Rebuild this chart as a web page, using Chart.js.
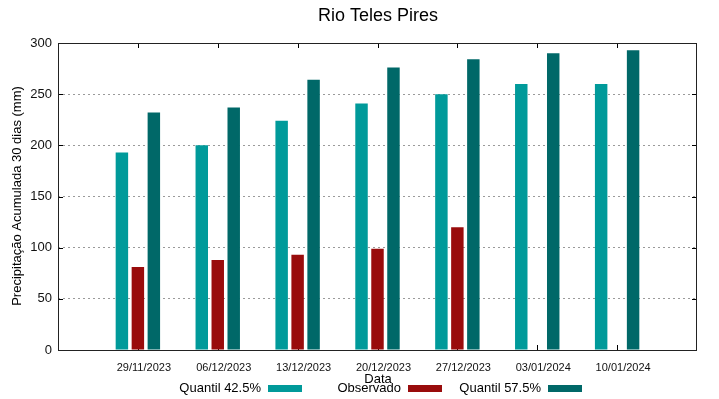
<!DOCTYPE html>
<html>
<head>
<meta charset="utf-8">
<script src="https://cdn.jsdelivr.net/npm/chart.js@4.4.1/dist/chart.umd.min.js"></script>
<style>
  html, body { margin: 0; padding: 0; background: #fff; }
  #wrap { width: 719px; height: 399px; position: relative; }
</style>
</head>
<body>
<div id="wrap"><canvas id="c" width="719" height="399"></canvas></div>
<script>
const chartTitle = 'Rio Teles Pires';
const xTitle = 'Data';
const yTitle = 'Precipitação Acumulada 30 dias (mm)';
const categories = ['29/11/2023', '06/12/2023', '13/12/2023', '20/12/2023', '27/12/2023', '03/01/2024', '10/01/2024'];
const seriesNames = ['Quantil 42.5%', 'Observado', 'Quantil 57.5%'];
const quantil425 = [193, 200, 224, 241, 250, 260, 260];
const observado = [81, 88, 93, 99, 120, null, null];
const quantil575 = [232, 237, 264, 276, 284, 290, 293];
const yTicks = [0, 50, 100, 150, 200, 250, 300];

const colors = ['#009a9a', '#990c0c', '#006868'];
const FONT = "'Liberation Sans', Arial, sans-serif";

// pad one empty category on each side (gnuplot-like x range)
const labels = [''].concat(categories, ['']);
const pad = arr => [null].concat(arr, [null]);

const decor = {
  id: 'decor',
  beforeDatasetsDraw(chart) {
    const { ctx, chartArea: a, scales } = chart;
    ctx.save();
    ctx.strokeStyle = '#000';
    ctx.lineWidth = 1;
    const tl = 5;
    ctx.beginPath();
    yTicks.forEach(v => {
      const y = Math.round(scales.y.getPixelForValue(v)) + 0.5;
      ctx.moveTo(a.left, y); ctx.lineTo(a.left + tl, y);
      ctx.moveTo(a.right, y); ctx.lineTo(a.right - tl, y);
    });
    categories.forEach((c, i) => {
      const x = Math.round(scales.x.getPixelForValue(i + 1)) + 0.5;
      ctx.moveTo(x, a.bottom); ctx.lineTo(x, a.bottom - tl);
      ctx.moveTo(x, a.top); ctx.lineTo(x, a.top + tl);
    });
    ctx.stroke();
    ctx.restore();
  },
  afterDraw(chart) {
    const { ctx, chartArea: a } = chart;
    ctx.save();
    ctx.strokeStyle = '#222';
    ctx.lineWidth = 1;
    ctx.strokeRect(Math.round(a.left) + 0.5, Math.round(a.top) + 0.5,
                   Math.round(a.right - a.left) - 1, Math.round(a.bottom - a.top));
    // title
    ctx.fillStyle = '#000';
    ctx.font = '18px ' + FONT;
    ctx.textAlign = 'center';
    ctx.textBaseline = 'middle';
    ctx.fillText(chartTitle, 378, 16);
    // x title
    ctx.font = '13px ' + FONT;
    ctx.fillText(xTitle, 378, 379);
    // y title
    ctx.save();
    ctx.translate(17, 196);
    ctx.rotate(-Math.PI / 2);
    ctx.fillText(yTitle, 0, 0);
    ctx.restore();
    // legend
    const ends = [261, 401, 541];
    chart.data.datasets.forEach((ds, i) => {
      ctx.textAlign = 'right';
      ctx.fillStyle = '#000';
      ctx.font = '13px ' + FONT;
      ctx.fillText(ds.label, ends[i], 388);
      ctx.fillStyle = ds.backgroundColor;
      ctx.fillRect(ends[i] + 7, 385, 34, 7);
    });
    ctx.restore();
  }
};

new Chart(document.getElementById('c'), {
  type: 'bar',
  data: {
    labels: labels,
    datasets: [
      { label: seriesNames[0], data: pad(quantil425), backgroundColor: colors[0] },
      { label: seriesNames[1], data: pad(observado), backgroundColor: colors[1] },
      { label: seriesNames[2], data: pad(quantil575), backgroundColor: colors[2] }
    ]
  },
  options: {
    responsive: false,
    animation: false,
    devicePixelRatio: 1,
    categoryPercentage: 0.6,
    barPercentage: 0.78,
    layout: { padding: { top: 43, right: 22, left: 0, bottom: 0 } },
    plugins: { legend: { display: false }, title: { display: false }, tooltip: { enabled: false } },
    scales: {
      x: {
        offset: false,
        grid: { display: false, drawTicks: false },
        border: { display: false },
        ticks: { color: '#111', font: { family: FONT, size: 11 }, padding: 11, labelOffset: 6, maxRotation: 0, autoSkip: false },
        afterFit(s) { s.height = 49; }
      },
      y: {
        min: 0, max: 300,
        afterBuildTicks(s) { s.ticks = yTicks.map(v => ({ value: v })); },
        grid: {
          drawTicks: false,
          color: c => (c.tick && (c.tick.value === 0 || c.tick.value === 300)) ? 'rgba(0,0,0,0)' : '#9a9a9a',
          lineWidth: 1
        },
        border: { display: false, dash: [2, 3] },
        ticks: { color: '#111', font: { family: FONT, size: 13 }, padding: 6 },
        afterFit(s) { s.width = 58; }
      }
    }
  },
  plugins: [decor]
});
</script>
</body>
</html>
